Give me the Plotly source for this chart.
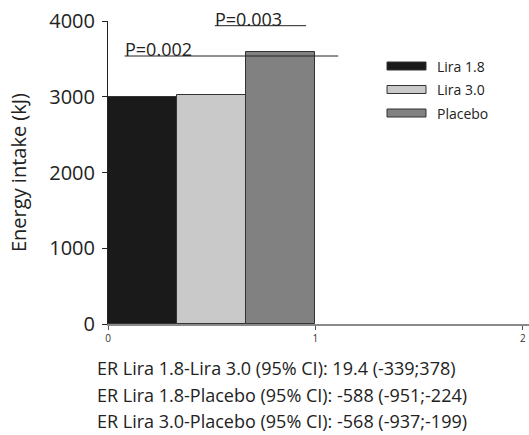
import plotly.graph_objects as go

# Energy intake by treatment group
groups = ["Lira 1.8", "Lira 3.0", "Placebo"]
energy_kj = [3000, 3020, 3588]
bar_colors = ["#1a1a1a", "#c9c9c9", "#818181"]

# Pairwise comparisons: (label, y level, x start, x end)
p_labels = ["P=0.002", "P=0.003"]
p_levels = [3538, 3938]
p_x0 = [0.08, 0.515]
p_x1 = [1.11, 0.955]

er_lines = [
    "ER Lira 1.8-Lira 3.0 (95% CI): 19.4 (-339;378)",
    "ER Lira 1.8-Placebo (95% CI): -588 (-951;-224)",
    "ER Lira 3.0-Placebo (95% CI): -568 (-937;-199)",
]

y_ticks = [0, 1000, 2000, 3000, 4000]
x_ticks = [0, 1, 2]

FONT = "Open Sans"
W, H = 529, 435
ML, MR, MT, MB = 108, 0, 21, 111

n = len(groups)
bw = 1.0 / n
fig = go.Figure()
for i, (g, v, c) in enumerate(zip(groups, energy_kj, bar_colors)):
    fig.add_trace(go.Bar(
        x=[(i + 0.5) * bw], y=[v], width=[bw], name=g,
        marker=dict(color=c, line=dict(color="#333333", width=1)),
        showlegend=False,
    ))

shapes = []
annotations = []
for lab, lv, a, b in zip(p_labels, p_levels, p_x0, p_x1):
    shapes.append(dict(type="line", xref="x", yref="y", x0=a, x1=b, y0=lv, y1=lv,
                       line=dict(color="#222222", width=1)))
    annotations.append(dict(x=a, y=lv, xref="x", yref="y", text=lab, showarrow=False,
                            xanchor="left", yanchor="bottom", yshift=-7, xshift=-2,
                            font=dict(family=FONT, size=18, color="#222222")))

# Legend drawn as wide swatches with labels
plot_w = W - ML - MR
plot_h = H - MT - MB
def px_x(p):
    return (p - ML) / plot_w
def px_y(p):
    return (H - MB - p) / plot_h

row0, step = 66, 23.5
for i, (g, c) in enumerate(zip(groups, bar_colors)):
    cy = row0 + i * step
    shapes.append(dict(type="rect", xref="paper", yref="paper",
                       x0=px_x(387), x1=px_x(426), y0=px_y(cy + 4), y1=px_y(cy - 4),
                       fillcolor=c, line=dict(color="#333333", width=1)))
    annotations.append(dict(x=px_x(435), y=px_y(cy), xref="paper", yref="paper",
                            text=g, showarrow=False, xanchor="left", yanchor="middle",
                            font=dict(family=FONT, size=14, color="#222222")))

for i, t in enumerate(er_lines):
    annotations.append(dict(x=px_x(95), y=0, xref="paper", yref="paper", text=t,
                            showarrow=False, xanchor="left", yanchor="middle",
                            yshift=-(44 + 26.5 * i),
                            font=dict(family=FONT, size=18, color="#222222")))

fig.update_layout(
    width=W, height=H,
    margin=dict(l=ML, r=MR, t=MT, b=MB, pad=0),
    paper_bgcolor="white", plot_bgcolor="white",
    bargap=0,
    shapes=shapes, annotations=annotations,
    xaxis=dict(range=[0, 2.03], tickvals=x_ticks, ticktext=[str(t) for t in x_ticks],
               showgrid=False, zeroline=False, showline=True, linecolor="#8a8a8a",
               linewidth=1.5, ticks="outside", ticklen=4, tickcolor="#555555",
               tickfont=dict(family=FONT, size=10, color="#333333")),
    yaxis=dict(range=[0, 4000], tickvals=y_ticks, showgrid=False, zeroline=False,
               showline=True, linecolor="#222222", linewidth=1, ticks="outside",
               ticklen=5, tickcolor="#222222", ticklabelstandoff=3,
               tickfont=dict(family=FONT, size=20, color="#222222"),
               title=dict(text="Energy intake (kJ)", standoff=17,
                          font=dict(family=FONT, size=20, color="#222222"))),
)

fig.write_html("out.html")
